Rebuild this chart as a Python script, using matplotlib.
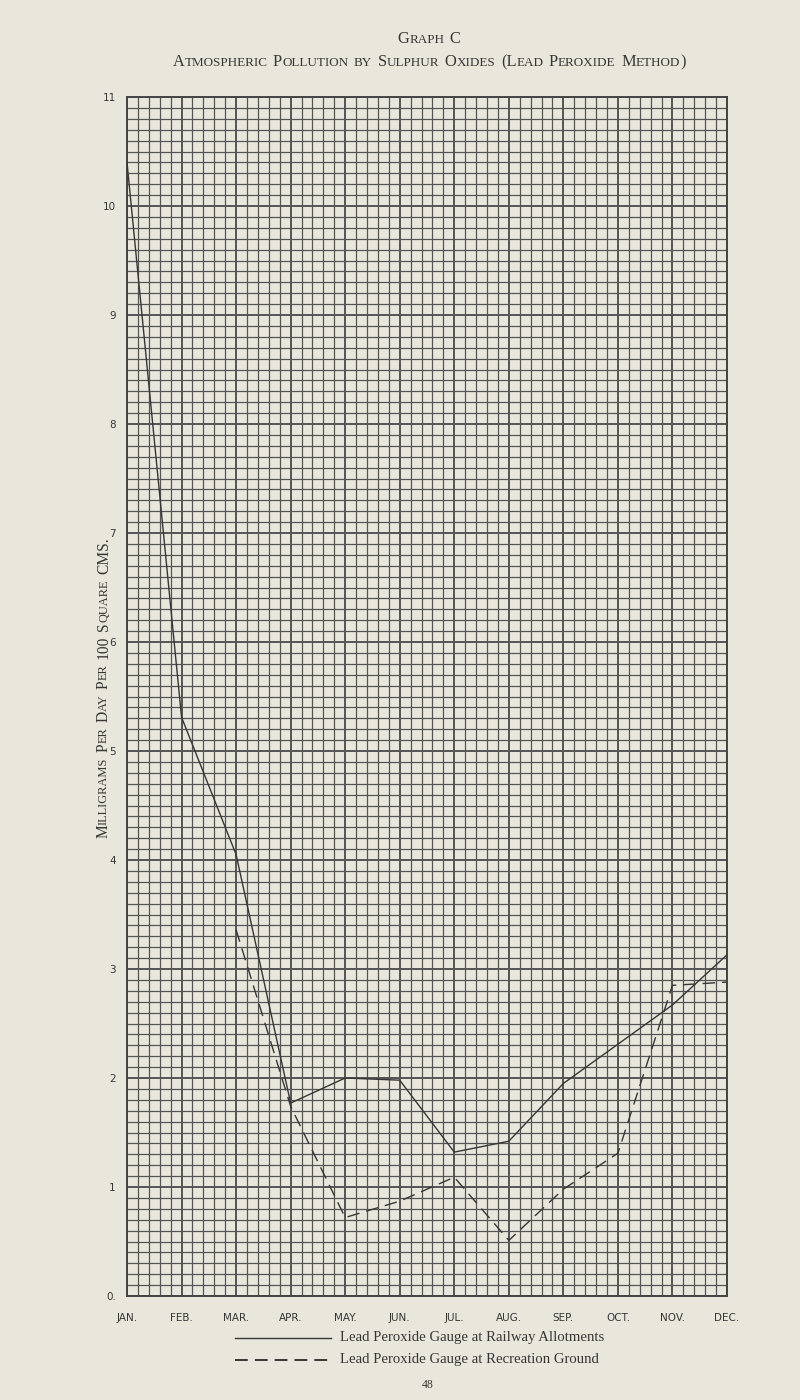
import matplotlib
matplotlib.use("Agg")
import matplotlib.pyplot as plt
import numpy as np

# data
months = ["JAN.", "FEB.", "MAR.", "APR.", "MAY.", "JUN.", "JUL.", "AUG.", "SEP.", "OCT.", "NOV.", "DEC."]
railway = [10.4, 5.31, 4.05, 1.77, 2.0, 1.98, 1.32, 1.42, 1.95, 2.31, 2.67, 3.13]
recreation_months = ["MAR.", "APR.", "MAY.", "JUN.", "JUL.", "AUG.", "SEP.", "OCT.", "NOV.", "DEC."]
recreation = [3.36, 1.74, 0.72, 0.87, 1.09, 0.51, 0.98, 1.31, 2.85, 2.88]
y_labels = ["0.", "1", "2", "3", "4", "5", "6", "7", "8", "9", "10", "11"]

paper = "#e9e7dc"
ink = "#363636"
grid_col = "#555555"
serif = ["Liberation Serif", "DejaVu Serif"]

W, H = 800, 1400
fig = plt.figure(figsize=(8, 14), dpi=100, facecolor=paper)
ax = fig.add_axes([127 / W, 1 - 1296 / H, 600 / W, (1296 - 97) / H])
ax.set_facecolor(paper)

x_pos = np.arange(len(months))
ax.set_xlim(0, len(months) - 1)
ax.set_ylim(0, 11)

ax.set_xticks(x_pos)
ax.set_xticklabels(months, fontsize=7.5, color=ink)
ax.set_xticks(np.arange(0, len(months) - 1 + 0.01, 0.2), minor=True)
ax.set_yticks(range(len(y_labels)))
ax.set_yticklabels(y_labels, fontsize=7.5, color=ink)
ax.set_yticks(np.arange(0, 11.01, 0.1), minor=True)
ax.tick_params(which="both", length=0)
ax.tick_params(axis="x", pad=12)
ax.tick_params(axis="y", pad=8)
ax.grid(which="major", color=grid_col, linewidth=1.4)
ax.grid(which="minor", color=grid_col, linewidth=0.9)
ax.set_axisbelow(True)
for s in ax.spines.values():
    s.set_color("#444444")
    s.set_linewidth(1.4)

ax.plot(x_pos, railway, color=ink, linewidth=1.0, zorder=3)
rec_x = [months.index(m) for m in recreation_months]
ax.plot(rec_x, recreation, color=ink, linewidth=1.0, dashes=(9, 5), zorder=3)

renderer = fig.canvas.get_renderer()


def word_width(txt, size):
    t = fig.text(0, 0, txt, fontsize=size, family=serif)
    w = t.get_window_extent(renderer).width
    t.remove()
    return w


def small_caps(x, y, s, size, rotation=0):
    # fake small capitals: lowercase letters become smaller capitals
    small = size * 0.8
    words = []
    for word in s.split(" "):
        runs = []
        for ch in word:
            is_small = ch.islower()
            c = ch.upper()
            if runs and runs[-1][1] == is_small:
                runs[-1][0] += c
            else:
                runs.append([c, is_small])
        words.append(runs)
    space = size * 1.389 * 0.34
    widths = []
    for runs in words:
        widths.append([word_width(r[0], small if r[1] else size) for r in runs])
    total = sum(sum(w) for w in widths) + space * (len(words) - 1)
    pos = -total / 2
    for runs, ws in zip(words, widths):
        for (txt, is_small), w in zip(runs, ws):
            if rotation == 0:
                fx, fy = (x + pos) / W, 1 - y / H
            else:
                fx, fy = x / W, 1 - (y - pos) / H
            fig.text(fx, fy, txt, fontsize=small if is_small else size, family=serif,
                     color=ink, rotation=rotation, ha="left" if rotation == 0 else "center",
                     va="baseline" if rotation == 0 else "bottom",
                     rotation_mode="anchor" if rotation == 0 else "default")
            pos += w
        pos += space


small_caps(429, 43, "Graph C", 11.8)
small_caps(429, 66, "Atmospheric Pollution by Sulphur Oxides (Lead Peroxide Method)", 11.8)
small_caps(104, 688, "Milligrams Per Day Per 100 Square CMS.", 11.2, rotation=90)

# legend drawn as on the page
leg = fig.add_axes([0, 0, 1, 1], facecolor="none")
leg.set_xlim(0, W)
leg.set_ylim(H, 0)
leg.axis("off")
leg.plot([235, 331], [1338, 1338], color=ink, linewidth=1.0)
leg.plot([235, 331], [1360, 1360], color=ink, linewidth=1.4, dashes=(6.6, 3.6))
leg.text(340, 1338, "Lead Peroxide Gauge at Railway Allotments", fontsize=10.6,
         family=serif, color=ink, va="center")
leg.text(340, 1360, "Lead Peroxide Gauge at Recreation Ground", fontsize=10.6,
         family=serif, color=ink, va="center")
leg.text(428, 1385, "48", fontsize=8.5, family=serif, color=ink, ha="center", va="center")

fig.savefig("out.png", dpi=100, facecolor=paper)
